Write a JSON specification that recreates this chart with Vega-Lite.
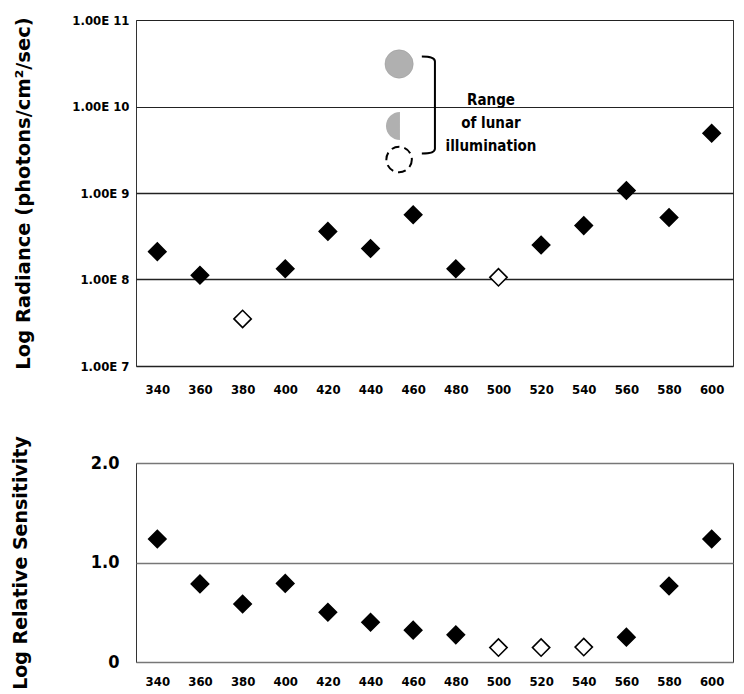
{
  "$schema": "https://vega.github.io/schema/vega-lite/v6.json",
  "padding": {"left": 10, "top": 13, "right": 4, "bottom": 4},
  "spacing": 97,
  "bounds": "flush",
  "config": {
    "view": {"stroke": "#333", "strokeWidth": 1},
    "axis": {
      "domain": false,
      "ticks": false,
      "labelFont": "Liberation Sans Narrow, DejaVu Sans Condensed, sans-serif",
      "labelFontWeight": "bold",
      "labelColor": "black",
      "titleFont": "DejaVu Sans, Verdana, sans-serif",
      "titleFontWeight": "bold",
      "titleColor": "black"
    }
  },
  "vconcat": [
    {
      "width": 597,
      "height": 346,
      "layer": [
        {
          "data": {
            "values": [
              {"wl": 340, "radiance": 2.1e8, "kind": "filled"},
              {"wl": 360, "radiance": 1.12e8, "kind": "filled"},
              {"wl": 380, "radiance": 3.5e7, "kind": "open"},
              {"wl": 400, "radiance": 1.33e8, "kind": "filled"},
              {"wl": 420, "radiance": 3.6e8, "kind": "filled"},
              {"wl": 440, "radiance": 2.28e8, "kind": "filled"},
              {"wl": 460, "radiance": 5.6e8, "kind": "filled"},
              {"wl": 480, "radiance": 1.33e8, "kind": "filled"},
              {"wl": 500, "radiance": 1.06e8, "kind": "open"},
              {"wl": 520, "radiance": 2.5e8, "kind": "filled"},
              {"wl": 540, "radiance": 4.2e8, "kind": "filled"},
              {"wl": 560, "radiance": 1.07e9, "kind": "filled"},
              {"wl": 580, "radiance": 5.2e8, "kind": "filled"},
              {"wl": 600, "radiance": 4.9e9, "kind": "filled"}
            ]
          },
          "mark": {"type": "point", "shape": "diamond", "size": 300, "filled": true, "stroke": "black", "strokeWidth": 1.6, "opacity": 1},
          "encoding": {
            "x": {
              "field": "wl",
              "type": "quantitative",
              "scale": {"domain": [330, 610], "nice": false, "zero": false},
              "axis": {
                "title": null,
                "values": [340, 360, 380, 400, 420, 440, 460, 480, 500, 520, 540, 560, 580, 600],
                "format": "d",
                "labelFlush": false,
                "labelFontSize": 13,
                "labelPadding": 17,
                "grid": false
              }
            },
            "y": {
              "field": "radiance",
              "type": "quantitative",
              "scale": {"type": "log", "domain": [1e7, 1e11]},
              "axis": {
                "title": "Log Radiance (photons/cm²/sec)",
                "values": [1e7, 1e8, 1e9, 1e10, 1e11],
                "labelExpr": "'1.00E ' + round(log(datum.value) / LN10)",
                "grid": true,
                "gridColor": "#222",
                "gridWidth": {"condition": {"test": "datum.value > 5e9", "value": 1}, "value": 1.6},
                "labelFontSize": 13,
                "labelPadding": 7,
                "titleFontSize": 19.5,
                "titlePadding": 38
              }
            },
            "fill": {
              "field": "kind",
              "type": "nominal",
              "scale": {"domain": ["filled", "open"], "range": ["black", "white"]},
              "legend": null
            }
          }
        },
        {
          "data": {"values": [{"wl": 453.4, "radiance": 3.1e10}]},
          "mark": {"type": "point", "shape": "circle", "size": 800, "filled": true, "fill": "#b0b0b0", "stroke": "#9a9a9a", "strokeWidth": 0.5, "opacity": 1},
          "encoding": {
            "x": {"field": "wl", "type": "quantitative"},
            "y": {"field": "radiance", "type": "quantitative"}
          }
        },
        {
          "data": {"values": [{"wl": 453.8, "radiance": 5.96e9}]},
          "mark": {"type": "point", "shape": "M 0 -1 A 1 1 0 0 0 0 1 Z", "size": 784, "filled": true, "fill": "#b0b0b0", "opacity": 1},
          "encoding": {
            "x": {"field": "wl", "type": "quantitative"},
            "y": {"field": "radiance", "type": "quantitative"}
          }
        },
        {
          "data": {"values": [{"wl": 453.4, "radiance": 2.44e9}]},
          "mark": {"type": "point", "shape": "circle", "size": 650, "filled": false, "stroke": "black", "strokeWidth": 2, "strokeDash": [8, 5], "opacity": 1},
          "encoding": {
            "x": {"field": "wl", "type": "quantitative"},
            "y": {"field": "radiance", "type": "quantitative"}
          }
        },
        {
          "data": {"values": [{"wl": 470.2, "radiance": 1.04e10}]},
          "mark": {"type": "point", "shape": "M -0.27 -1 Q 0 -1 0 -0.9 L 0 0.9 Q 0 1 -0.27 1", "size": 9409, "filled": false, "stroke": "black", "strokeWidth": 2, "opacity": 1},
          "encoding": {
            "x": {"field": "wl", "type": "quantitative"},
            "y": {"field": "radiance", "type": "quantitative"}
          }
        },
        {
          "data": {"values": [{"wl": 496.5, "radiance": 1.19e10, "label": "Range\nof lunar\nillumination"}]},
          "mark": {"type": "text", "lineBreak": "\n", "lineHeight": 23, "align": "center", "baseline": "middle", "font": "Liberation Sans Narrow, DejaVu Sans Condensed, sans-serif", "fontWeight": "bold", "fontSize": 15, "color": "black"},
          "encoding": {
            "x": {"field": "wl", "type": "quantitative"},
            "y": {"field": "radiance", "type": "quantitative"},
            "text": {"field": "label"}
          }
        }
      ]
    },
    {
      "width": 597,
      "height": 199,
      "data": {
        "values": [
          {"wl": 340, "sensitivity": 1.236, "kind": "filled"},
          {"wl": 360, "sensitivity": 0.785, "kind": "filled"},
          {"wl": 380, "sensitivity": 0.583, "kind": "filled"},
          {"wl": 400, "sensitivity": 0.79, "kind": "filled"},
          {"wl": 420, "sensitivity": 0.5, "kind": "filled"},
          {"wl": 440, "sensitivity": 0.4, "kind": "filled"},
          {"wl": 460, "sensitivity": 0.32, "kind": "filled"},
          {"wl": 480, "sensitivity": 0.273, "kind": "filled"},
          {"wl": 500, "sensitivity": 0.145, "kind": "open"},
          {"wl": 520, "sensitivity": 0.145, "kind": "open"},
          {"wl": 540, "sensitivity": 0.15, "kind": "open"},
          {"wl": 560, "sensitivity": 0.25, "kind": "filled"},
          {"wl": 580, "sensitivity": 0.764, "kind": "filled"},
          {"wl": 600, "sensitivity": 1.236, "kind": "filled"}
        ]
      },
      "mark": {"type": "point", "shape": "diamond", "size": 300, "filled": true, "stroke": "black", "strokeWidth": 1.6, "opacity": 1},
      "encoding": {
        "x": {
          "field": "wl",
          "type": "quantitative",
          "scale": {"domain": [330, 610], "nice": false, "zero": false},
          "axis": {
            "title": null,
            "values": [340, 360, 380, 400, 420, 440, 460, 480, 500, 520, 540, 560, 580, 600],
            "format": "d",
            "labelFlush": false,
            "labelFontSize": 13,
            "labelPadding": 13,
            "grid": false
          }
        },
        "y": {
          "field": "sensitivity",
          "type": "quantitative",
          "scale": {"domain": [0, 2]},
          "axis": {
            "title": "Log Relative Sensitivity",
            "values": [0, 1, 2],
            "labelExpr": "datum.value == 0 ? '0' : format(datum.value, '.1f')",
            "grid": true,
            "gridColor": "#777",
            "gridWidth": 1.5,
            "labelFontSize": 18,
            "labelPadding": 17,
            "titleFontSize": 19,
            "titlePadding": 60
          }
        },
        "fill": {
          "field": "kind",
          "type": "nominal",
          "scale": {"domain": ["filled", "open"], "range": ["black", "white"]},
          "legend": null
        }
      }
    }
  ]
}
